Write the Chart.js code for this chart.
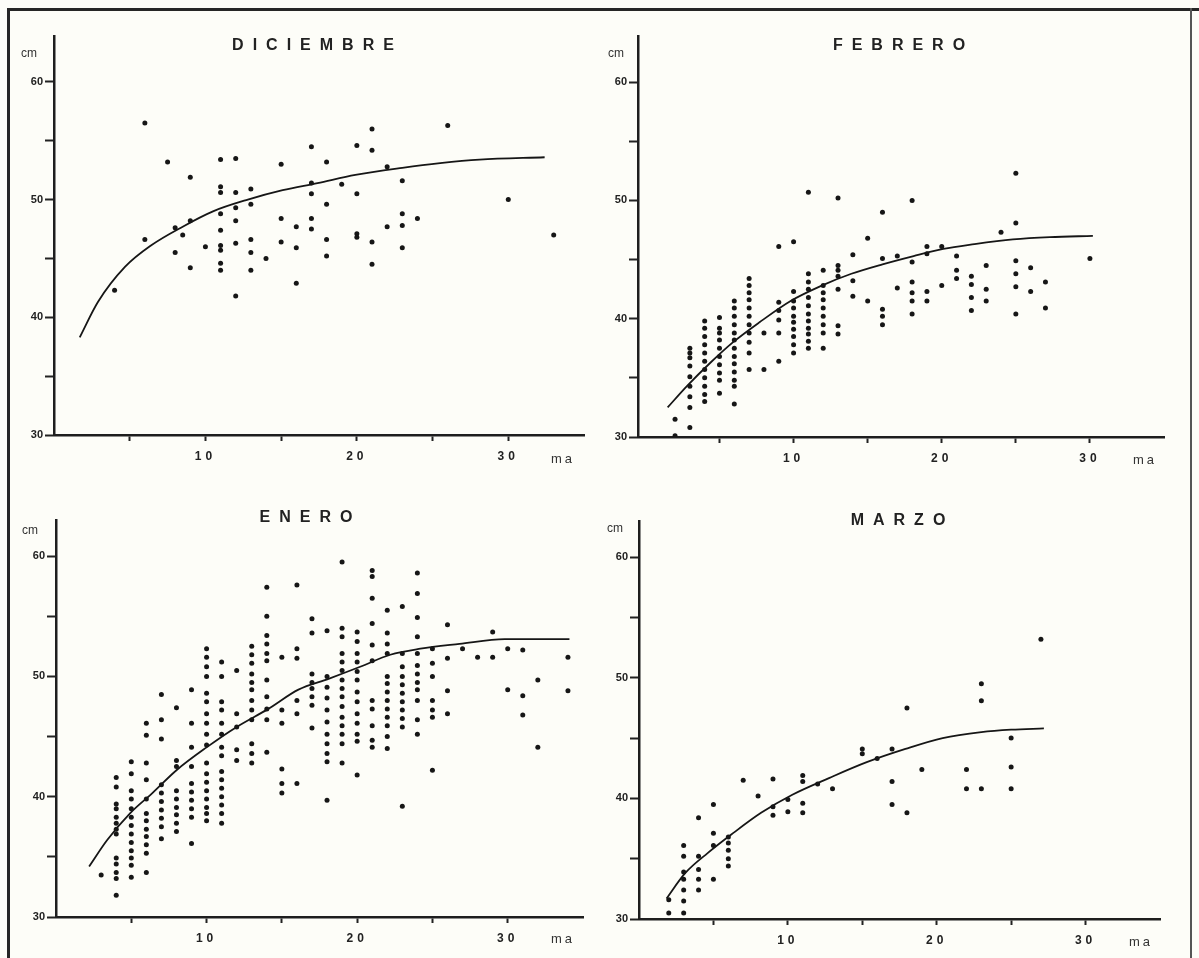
<!DOCTYPE html>
<html>
<head>
<meta charset="utf-8">
<script src="https://cdn.jsdelivr.net/npm/chart.js@4.4.1/dist/chart.umd.min.js"></script>
<style>
html, body { margin: 0; padding: 0; background: #fdfdf8; }
#sheet { position: relative; width: 1199px; height: 958px; overflow: hidden; background: #fdfdf8;
         font-family: "Liberation Sans", Arial, sans-serif; color: #1c1c1c; }
canvas { position: absolute; }
.title { position: absolute; transform: translate(-50%, -50%); font-weight: bold; font-size: 16px;
         letter-spacing: 9px; padding-left: 9px; white-space: nowrap; color: #222; }
.unit { position: absolute; transform: translateY(-50%); font-size: 12px; color: #333; }
.ma { letter-spacing: 3px; font-size: 13px; }
.frame { position: absolute; background: #262626; }
</style>
</head>
<body>
<div id="sheet">
  <div class="frame" style="left:7px;top:8px;width:3px;height:950px;"></div>
  <div class="frame" style="left:7px;top:8px;width:1192px;height:3px;"></div>
  <div class="frame" style="left:1190px;top:8px;width:2px;height:950px;background:#555;"></div>
</div>
<script>
// ticks
const xTicks = [5, 10, 15, 20, 25, 30];
const xLabels = [10, 20, 30];
const yTicks = [30, 35, 40, 45, 50, 55, 60];
const yLabels = [30, 40, 50, 60];
const titulos = ['DICIEMBRE', 'FEBRERO', 'ENERO', 'MARZO'];

// DICIEMBRE
const dicPuntos = [[6,56.5],[7.5,53.2],[9,51.9],[11,53.4],[11,51.1],[11,50.6],[12,53.5],[12,50.6],[13,50.9],[13,49.6],
  [12,49.3],[11,48.8],[9,48.2],[8,47.6],[8.5,47.0],[8,45.5],[6,46.6],[4,42.3],[9,44.2],[10,46],[11,47.4],[11,46.1],
  [11,45.7],[11,44.6],[11,44.0],[12,48.2],[12,46.3],[13,46.6],[13,45.5],[13,44],[12,41.8],[14,45],[15,53],[15,48.4],
  [15,46.4],[16,47.7],[16,45.9],[16,42.9],[17,54.5],[17,51.4],[17,50.5],[17,48.4],[17,47.5],[18,53.2],[18,49.6],
  [18,46.6],[18,45.2],[19,51.3],[20,54.6],[20,50.5],[20,47.1],[20,46.8],[21,56],[21,54.2],[21,46.4],[21,44.5],
  [22,52.8],[22,47.7],[23,51.6],[23,48.8],[23,47.8],[23,45.9],[24,48.4],[26,56.3],[30,50],[33,47]];
const dicCurva = [[1.7,38.3],[2.9,41.3],[4.7,44.3],[6.4,46.1],[8.5,47.7],[10.5,49.0],[12.8,50.0],[15.1,50.8],
  [17.4,51.4],[19.9,52.1],[23,52.7],[25.5,53.1],[28.1,53.4],[32.4,53.6]];

// FEBRERO
const febPuntos = [[2,31.5],[2,30.1],
  [3,37.5],[3,37.1],[3,36.7],[3,36],[3,35.1],[3,34.3],[3,33.4],[3,32.5],[3,30.8],
  [4,39.8],[4,39.2],[4,38.5],[4,37.8],[4,37.1],[4,36.4],[4,35.7],[4,35.0],[4,34.3],[4,33.6],[4,33.0],
  [5,40.1],[5,39.2],[5,38.8],[5,38.2],[5,37.5],[5,36.8],[5,36.1],[5,35.4],[5,34.8],[5,33.7],
  [6,41.5],[6,40.9],[6,40.2],[6,39.5],[6,38.8],[6,38.2],[6,37.5],[6,36.8],[6,36.2],[6,35.5],[6,34.8],[6,34.3],[6,32.8],
  [7,43.4],[7,42.8],[7,42.2],[7,41.6],[7,40.9],[7,40.2],[7,39.5],[7,38.8],[7,38.0],[7,37.1],[7,35.7],
  [8,38.8],[8,35.7],
  [9,46.1],[9,41.4],[9,40.7],[9,39.9],[9,38.8],[9,36.4],
  [10,46.5],[10,42.3],[10,41.5],[10,40.9],[10,40.2],[10,39.7],[10,39.1],[10,38.5],[10,37.8],[10,37.1],
  [11,50.7],[11,43.8],[11,43.1],[11,42.5],[11,41.8],[11,41.1],[11,40.4],[11,39.8],[11,39.2],[11,38.7],[11,38.1],[11,37.5],
  [12,44.1],[12,42.8],[12,42.2],[12,41.6],[12,40.9],[12,40.2],[12,39.5],[12,38.8],[12,37.5],
  [13,50.2],[13,44.5],[13,44.1],[13,43.6],[13,42.5],[13,39.4],[13,38.7],
  [14,45.4],[14,43.2],[14,41.9],[15,46.8],[15,41.5],
  [16,49],[16,45.1],[16,40.8],[16,40.2],[16,39.5],[17,45.3],[17,42.6],
  [18,50.0],[18,44.8],[18,43.1],[18,42.2],[18,41.5],[18,40.4],
  [19,46.1],[19,45.5],[19,42.3],[19,41.5],[20,46.1],[20,42.8],
  [21,45.3],[21,44.1],[21,43.4],[22,43.6],[22,42.9],[22,41.8],[22,40.7],
  [23,44.5],[23,42.5],[23,41.5],[24,47.3],
  [25,52.3],[25,48.1],[25,44.9],[25,43.8],[25,42.7],[25,40.4],
  [26,44.3],[26,42.3],[27,43.1],[27,40.9],[30,45.1]];
const febCurva = [[1.5,32.5],[2.8,34.3],[4.4,36.3],[5.9,38.0],[7.7,39.7],[9.8,41.5],[11.9,42.8],[13.9,43.8],
  [16,44.6],[18.1,45.3],[20.1,45.9],[22.2,46.3],[24.8,46.7],[27.3,46.9],[30.2,47.0]];

// ENERO
const enePuntos = [[3,33.5],
  [4,41.6],[4,40.8],[4,39.4],[4,39.0],[4,38.3],[4,37.8],[4,37.3],[4,36.9],[4,34.9],[4,34.4],[4,33.7],[4,33.2],[4,31.8],
  [5,42.9],[5,41.9],[5,40.5],[5,39.8],[5,39.0],[5,38.3],[5,37.6],[5,36.9],[5,36.2],[5,35.5],[5,34.9],[5,34.3],[5,33.3],
  [6,46.1],[6,45.1],[6,42.8],[6,41.4],[6,39.8],[6,38.6],[6,38.0],[6,37.3],[6,36.7],[6,36.0],[6,35.3],[6,33.7],
  [7,48.5],[7,46.4],[7,44.8],[7,41.0],[7,40.3],[7,39.6],[7,38.9],[7,38.2],[7,37.5],[7,36.5],
  [8,47.4],[8,43.0],[8,42.5],[8,40.5],[8,39.8],[8,39.1],[8,38.5],[8,37.8],[8,37.1],
  [9,48.9],[9,46.1],[9,44.1],[9,42.5],[9,41.1],[9,40.4],[9,39.7],[9,39.0],[9,38.3],[9,36.1],
  [10,52.3],[10,51.6],[10,50.8],[10,50],[10,48.6],[10,47.9],[10,46.9],[10,46.1],[10,45.2],[10,44.3],[10,42.8],
  [10,41.9],[10,41.2],[10,40.5],[10,39.8],[10,39.1],[10,38.6],[10,38.0],
  [11,51.2],[11,50.0],[11,47.9],[11,47.2],[11,46.1],[11,45.2],[11,44.1],[11,43.4],[11,42.1],[11,41.4],[11,40.7],
  [11,40.0],[11,39.3],[11,38.6],[11,37.8],
  [12,50.5],[12,46.9],[12,45.8],[12,43.9],[12,43.0],
  [13,52.5],[13,51.8],[13,51.1],[13,50.2],[13,49.5],[13,48.9],[13,48.0],[13,47.2],[13,46.4],[13,44.4],[13,43.6],[13,42.8],
  [14,57.4],[14,55],[14,53.4],[14,52.7],[14,51.9],[14,51.3],[14,49.7],[14,48.3],[14,47.3],[14,46.4],[14,43.7],
  [15,51.6],[15,47.2],[15,46.1],[15,42.3],[15,41.1],[15,40.3],
  [16,57.6],[16,52.3],[16,51.5],[16,48.0],[16,46.9],[16,41.1],
  [17,54.8],[17,53.6],[17,50.2],[17,49.5],[17,49.0],[17,48.3],[17,47.6],[17,45.7],
  [18,53.8],[18,50.0],[18,49.1],[18,48.2],[18,47.2],[18,46.2],[18,45.2],[18,44.4],[18,43.6],[18,42.9],[18,39.7],
  [19,59.5],[19,54.0],[19,53.3],[19,51.9],[19,51.2],[19,50.5],[19,49.7],[19,49.0],[19,48.3],[19,47.5],[19,46.6],
  [19,45.9],[19,45.2],[19,44.4],[19,42.8],
  [20,53.7],[20,52.9],[20,51.9],[20,51.2],[20,50.4],[20,49.7],[20,48.7],[20,47.9],[20,46.9],[20,46.1],[20,45.2],
  [20,44.6],[20,41.8],
  [21,58.8],[21,58.3],[21,56.5],[21,54.4],[21,52.6],[21,51.3],[21,48.0],[21,47.3],[21,45.9],[21,44.7],[21,44.1],
  [22,55.5],[22,53.6],[22,52.7],[22,51.9],[22,50.0],[22,49.4],[22,48.7],[22,48.0],[22,47.3],[22,46.6],[22,45.9],
  [22,45.0],[22,44.0],
  [23,55.8],[23,51.9],[23,50.8],[23,50.0],[23,49.3],[23,48.6],[23,47.9],[23,47.2],[23,46.5],[23,45.8],[23,39.2],
  [24,58.6],[24,56.9],[24,54.9],[24,53.3],[24,51.9],[24,50.9],[24,50.2],[24,49.5],[24,48.9],[24,48.0],[24,46.4],[24,45.2],
  [25,52.3],[25,51.1],[25,50.0],[25,48.0],[25,47.2],[25,46.6],[25,42.2],
  [26,54.3],[26,51.5],[26,48.8],[26,46.9],[27,52.3],[28,51.6],[29,53.7],[29,51.6],[30,52.3],[30,48.9],
  [31,52.2],[31,48.4],[31,46.8],[32,49.7],[32,44.1],[34,51.6],[34,48.8]];
const eneCurva = [[2.2,34.2],[3.4,36.4],[4.9,38.6],[6.4,40.3],[8.0,42.2],[10,44.1],[12,45.8],[14.1,47.3],
  [16.1,48.9],[18.1,49.8],[20.2,50.8],[22.2,51.8],[24.2,52.3],[26.8,52.7],[29.8,53.1],[34.1,53.1]];

// MARZO
const marPuntos = [[2,31.6],[2,30.5],
  [3,36.1],[3,35.2],[3,33.9],[3,33.3],[3,32.4],[3,31.5],[3,30.5],
  [4,38.4],[4,35.2],[4,34.1],[4,33.3],[4,32.4],
  [5,39.5],[5,37.1],[5,36.1],[5,33.3],
  [6,36.8],[6,36.3],[6,35.7],[6,35.0],[6,34.4],
  [7,41.5],[8,40.2],[9,41.6],[9,39.3],[9,38.6],[10,39.9],[10,38.9],
  [11,41.9],[11,41.4],[11,39.6],[11,38.8],[12,41.2],[13,40.8],
  [15,44.1],[15,43.7],[16,43.3],[17,44.1],[17,41.4],[17,39.5],[18,47.5],[18,38.8],[19,42.4],
  [22,42.4],[22,40.8],[23,49.5],[23,48.1],[23,40.8],[25,45.0],[25,42.6],[25,40.8],[27,53.2]];
const marCurva = [[1.85,31.7],[3.1,33.8],[4.65,35.5],[6.2,37.0],[8.2,38.8],[10.3,40.3],[12.8,41.7],[15.3,43.0],
  [17.9,44.1],[20.4,45.0],[23,45.5],[25,45.7],[27.2,45.8]];

// layout of the four panels (page pixels)
const panels = [
  { pts: dicPuntos, curve: dicCurva, ox: 0,   oy: 0,   l: 54,  r: 584,  t: 36,  b: 435, xMin: 0,    yMax: 63.9,
    title: [313, 45], cm: [21, 53], ma: [551, 458] },
  { pts: febPuntos, curve: febCurva, ox: 600, oy: 0,   l: 638, r: 1164, t: 36,  b: 437, xMin: -0.5, yMax: 63.9,
    title: [899, 45], cm: [608, 53], ma: [1133, 459] },
  { pts: enePuntos, curve: eneCurva, ox: 0,   oy: 478, l: 56,  r: 583,  t: 520, b: 917, xMin: 0,    yMax: 63,
    title: [306, 517], cm: [22, 530], ma: [551, 938] },
  { pts: marPuntos, curve: marCurva, ox: 600, oy: 478, l: 639, r: 1160, t: 521, b: 919, xMin: 0,    yMax: 63,
    title: [898, 520], cm: [607, 528], ma: [1129, 941] }
];
const W = 600, H = 478;
const ink = '#161616';
const sheet = document.getElementById('sheet');

function addText(cls, txt, x, y) {
  const d = document.createElement('div');
  d.className = cls;
  d.textContent = txt;
  d.style.left = x + 'px';
  d.style.top = y + 'px';
  sheet.appendChild(d);
}

panels.forEach((p, i) => {
  const cv = document.createElement('canvas');
  cv.width = W; cv.height = H;
  cv.style.left = p.ox + 'px';
  cv.style.top = p.oy + 'px';
  sheet.appendChild(cv);

  new Chart(cv, {
    type: 'scatter',
    data: {
      datasets: [
        { data: p.pts.map(([x, y]) => ({ x, y })), pointRadius: 2.5, pointBackgroundColor: ink, pointBorderWidth: 0 },
        { data: p.curve.map(([x, y]) => ({ x, y })), showLine: true, pointRadius: 0, borderColor: ink,
          borderWidth: 1.8, cubicInterpolationMode: 'monotone', fill: false }
      ]
    },
    options: {
      responsive: false, animation: false, devicePixelRatio: 1,
      layout: { padding: { left: 0, top: p.t - p.oy, right: p.ox + W - p.r, bottom: 0 } },
      plugins: { legend: { display: false }, tooltip: { enabled: false } },
      scales: {
        x: {
          type: 'linear', min: p.xMin, max: 35,
          afterBuildTicks: s => { s.ticks = xTicks.map(v => ({ value: v })); },
          afterFit: s => {
            s.height = p.oy + H - p.b;
            s.paddingLeft = s.paddingRight = 0;
            if (!s._spaced) {
              const orig = s.drawLabels;
              s.drawLabels = function (a) {
                this.ctx.save(); this.ctx.letterSpacing = '4px';
                orig.call(this, a); this.ctx.restore();
              };
              s._spaced = true;
            }
          },
          grid: { drawOnChartArea: false, tickLength: 6, tickWidth: 2, tickColor: '#222' },
          border: { color: '#1e1e1e', width: 2.5 },
          ticks: { autoSkip: false, maxRotation: 0, padding: 8, color: '#222',
                   font: { family: 'Liberation Sans', size: 12, weight: 'bold' },
                   callback: v => xLabels.includes(v) ? String(v) : '' }
        },
        y: {
          type: 'linear', min: 30, max: p.yMax,
          afterBuildTicks: s => { s.ticks = yTicks.map(v => ({ value: v })); },
          afterFit: s => { s.width = p.l - p.ox; s.paddingTop = s.paddingBottom = 0; },
          grid: { drawOnChartArea: false, tickLength: 9, tickWidth: 2, tickColor: '#222' },
          border: { color: '#1e1e1e', width: 2.5 },
          ticks: { autoSkip: false, padding: 2, color: '#222',
                   font: { family: 'Liberation Sans', size: 11, weight: 'bold' },
                   callback: v => yLabels.includes(v) ? String(v) : '' }
        }
      }
    }
  });

  addText('title', titulos[i], p.title[0], p.title[1]);
  addText('unit', 'cm', p.cm[0], p.cm[1]);
  addText('unit ma', 'ma', p.ma[0], p.ma[1]);
});
</script>
</body>
</html>
